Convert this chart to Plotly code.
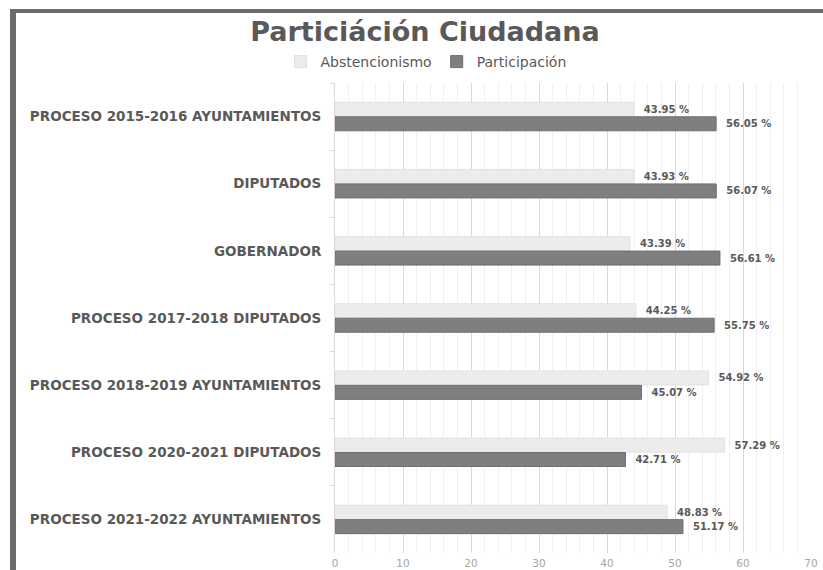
import plotly.graph_objects as go

categories = [
    "PROCESO 2015-2016 AYUNTAMIENTOS",
    "DIPUTADOS",
    "GOBERNADOR",
    "PROCESO 2017-2018 DIPUTADOS",
    "PROCESO 2018-2019 AYUNTAMIENTOS",
    "PROCESO 2020-2021 DIPUTADOS",
    "PROCESO 2021-2022 AYUNTAMIENTOS",
]
abstencionismo = [43.95, 43.93, 43.39, 44.25, 54.92, 57.29, 48.83]
participacion = [56.05, 56.07, 56.61, 55.75, 45.07, 42.71, 51.17]

W, H = 823, 570
L, R, T, B = 335, 12, 83, 17
PW, PH = W - L - R, H - T - B

def px_x(p):
    return (p - L) / PW

def px_y(p):
    return (H - B - p) / PH

label_font = dict(family="DejaVu Sans", size=10, color="#595959", weight="bold")
tmpl = "\u00a0\u00a0%{x:.2f} %"

fig = go.Figure()
fig.add_trace(go.Bar(
    name="Abstencionismo", y=categories, x=abstencionismo, orientation="h",
    marker=dict(color="#ececec", line=dict(color="#e2e2e2", width=1)),
    text=abstencionismo, texttemplate=tmpl, textposition="outside",
    textfont=label_font, cliponaxis=False,
))
fig.add_trace(go.Bar(
    name="Participación", y=categories, x=participacion, orientation="h",
    marker=dict(color="#7f7f7f", line=dict(color="#6e6e6e", width=1)),
    text=participacion, texttemplate=tmpl, textposition="outside",
    textfont=label_font, cliponaxis=False,
))

fig.update_layout(
    width=W, height=H,
    margin=dict(l=L, r=R, t=T, b=B, autoexpand=False),
    paper_bgcolor="white", plot_bgcolor="white",
    barmode="group", bargap=0.57, bargroupgap=0.03,
    title=dict(text="Particiáción Ciudadana", x=425 / W, xref="container", xanchor="center",
               y=1 - 32 / H, yref="container", yanchor="middle",
               font=dict(family="DejaVu Sans", size=27, color="#595959", weight="bold")),
    legend=dict(orientation="h", x=px_x(426), xanchor="center", xref="paper",
                y=px_y(62), yanchor="middle", yref="paper",
                font=dict(family="DejaVu Sans", size=14, color="#595959"),
                itemwidth=30, traceorder="normal"),
    xaxis=dict(range=[0, 70], dtick=10, showgrid=True, gridcolor="#d9d9d9", gridwidth=1,
               minor=dict(dtick=2, showgrid=True, gridcolor="#f0f0f0", gridwidth=1),
               zeroline=False, showline=False, ticks="", automargin=False,
               ticklabelstandoff=2,
               tickfont=dict(family="DejaVu Sans", size=10.5, color="#a6a6a6")),
    yaxis=dict(autorange="reversed", showgrid=False, showline=True, linecolor="#d9d9d9",
               ticks="outside", tickson="boundaries", ticklen=4, tickcolor="#d9d9d9",
               ticklabelstandoff=10, automargin=False,
               tickfont=dict(family="DejaVu Sans", size=13.5, color="#595959", weight="bold")),
    showlegend=True,
)

frame_color = "#6b6b6b"
fig.add_shape(type="rect", xref="paper", yref="paper",
              x0=px_x(10), x1=px_x(16), y0=px_y(H + 5), y1=px_y(9),
              fillcolor=frame_color, line=dict(width=0), layer="above")
fig.add_shape(type="rect", xref="paper", yref="paper",
              x0=px_x(10), x1=px_x(W + 5), y0=px_y(13), y1=px_y(9),
              fillcolor=frame_color, line=dict(width=0), layer="above")

fig.write_html("out.html", config={"displayModeBar": False},
               post_script="document.body.style.margin='0';document.body.style.overflow='hidden';")
